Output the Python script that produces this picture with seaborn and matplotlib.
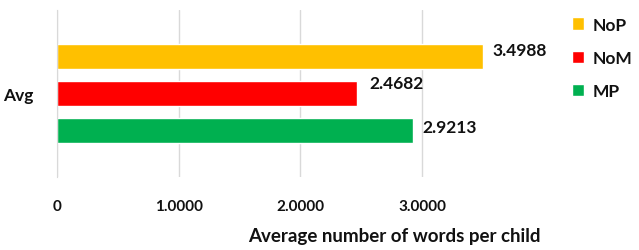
import matplotlib
matplotlib.use("Agg")
import matplotlib.pyplot as plt
import matplotlib.ticker as mtick
import pandas as pd
import seaborn as sns

# average words per child, one category with three groups
groups = ["NoP", "NoM", "MP"]
values = [3.4988, 2.4682, 2.9213]
category = ["Avg", "Avg", "Avg"]
colors = ["#FFC000", "#FF0000", "#00B050"]

df = pd.DataFrame({"cat": category, "group": groups, "val": values})

sns.set_style("white")
plt.rcParams["font.family"] = ["Lato", "DejaVu Sans"]
plt.rcParams["font.weight"] = "bold"

fig = plt.figure(figsize=(6.39, 2.51), dpi=100)
ax = fig.add_axes([0.089, 0.291, 0.686, 0.665])

sns.barplot(data=df, x="val", y="cat", hue="group", hue_order=groups,
            palette=colors, orient="h", width=0.8, gap=0.33, ax=ax,
            saturation=1, legend=True)

# value labels are nudged upward a bit in the original (points)
nudge = [(7, 4.3), (8.5, 7.8), (7, 2.8)]
for cont, (dx, dy) in zip(ax.containers, nudge):
    labels = ax.bar_label(cont, fmt="%.4f", padding=7, fontsize=12.5, fontweight="bold",
                          color="#111111")
    for t in labels:
        t.xyann = (dx, dy)

ax.set_xlim(0, 3.6)
ax.set_ylim(0.595, -0.595)
ax.set_xticks([0, 1, 2, 3])
ax.xaxis.set_major_formatter(mtick.FuncFormatter(lambda v, p: "0" if v == 0 else f"{v:.4f}"))
ax.grid(axis="x", color="#D9D9D9", linewidth=1)
ax.set_axisbelow(True)
for s in ["top", "right", "bottom"]:
    ax.spines[s].set_visible(False)
ax.spines["left"].set_color("#D9D9D9")
ax.tick_params(axis="x", length=0, pad=16, labelsize=11, labelcolor="#111111")
ax.tick_params(axis="y", length=0, pad=17, labelsize=12.5, labelcolor="#111111")
ax.set_ylabel("")
ax.set_xlabel("Average number of words per child", fontsize=13.5,
              fontweight="bold", color="#111111", va="center")
ax.xaxis.set_label_coords(0.77, -0.353)

ax.legend(loc="upper left", bbox_to_anchor=(0.895, 0.93), bbox_transform=fig.transFigure,
          frameon=False, handlelength=0.7, handleheight=0.7, handletextpad=0.5,
          labelspacing=1.0, prop={"size": 12.5, "weight": "bold"}, labelcolor="#111111",
          borderaxespad=0, borderpad=0)

fig.savefig("out.png", dpi=100)
